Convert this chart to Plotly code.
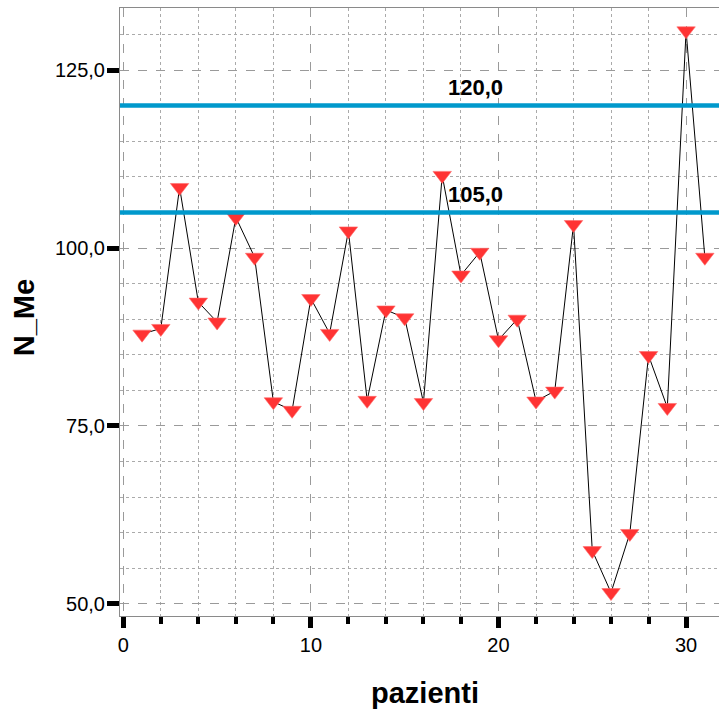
import plotly.graph_objects as go

# Patient index and measured N_Me values
pazienti = list(range(1, 32))
n_me = [87.9, 88.7, 108.5, 92.4, 89.6, 104.3, 98.7, 78.4, 77.2, 92.9,
        88.0, 102.4, 78.6, 91.3, 90.2, 78.3, 110.2, 96.2, 99.4, 87.1,
        90.0, 78.5, 79.9, 103.3, 57.5, 51.6, 59.9, 84.9, 77.6, 130.5, 98.7]

# Reference levels drawn as horizontal lines
ref_levels = [120.0, 105.0]
ref_label_x = 18.8

FONT = "Liberation Sans, Arial, sans-serif"

fig = go.Figure()

fig.add_trace(go.Scatter(
    x=pazienti, y=n_me,
    mode="lines+markers",
    line=dict(color="black", width=1),
    marker=dict(symbol="triangle-down", size=16, color="#ff3333",
                line=dict(color="#ff6a6a", width=0.6)),
    showlegend=False, hoverinfo="x+y",
))

shapes = []
annotations = []
for lvl in ref_levels:
    shapes.append(dict(type="line", xref="paper", x0=0, x1=1,
                       yref="y", y0=lvl, y1=lvl,
                       line=dict(color="#0099cc", width=4.5), layer="above"))
    annotations.append(dict(x=ref_label_x, y=lvl, xref="x", yref="y",
                            text="<b>" + f"{lvl:.1f}".replace(".", ",") + "</b>",
                            showarrow=False, xanchor="center", yanchor="middle",
                            yshift=18, font=dict(family=FONT, size=22, color="black")))

annotations.append(dict(x=-0.16, y=0.49, xref="paper", yref="paper",
                        text="<b>N_Me</b>", textangle=-90, showarrow=False,
                        xanchor="center", yanchor="middle",
                        font=dict(family=FONT, size=29, color="black")))
annotations.append(dict(x=0.509, y=-0.127, xref="paper", yref="paper",
                        text="<b>pazienti</b>", showarrow=False,
                        xanchor="center", yanchor="middle",
                        font=dict(family=FONT, size=29, color="black")))

fig.update_layout(
    width=719, height=715,
    margin=dict(l=120, r=0, t=8, b=99),
    paper_bgcolor="white", plot_bgcolor="white",
    separators=",.",
    font=dict(family=FONT, size=20, color="black"),
    shapes=shapes, annotations=annotations,
    xaxis=dict(
        range=[-0.176, 31.755], tick0=0, dtick=10,
        showgrid=True, gridcolor="#9a9a9a", griddash="dash", gridwidth=1,
        ticks="outside", ticklen=11, tickwidth=4.5, tickcolor="black",
        showline=True, linecolor="#8a8a8a", linewidth=1, mirror=True,
        zeroline=False,
        tickfont=dict(family=FONT, size=20, color="black"),
        minor=dict(tick0=0, dtick=2, showgrid=True, gridcolor="#aaaaaa",
                   griddash="dot", gridwidth=1, ticks="outside", ticklen=7,
                   tickwidth=4, tickcolor="black"),
    ),
    yaxis=dict(
        range=[48.31, 133.71], tick0=50, dtick=25, tickformat=".1f",
        showgrid=True, gridcolor="#9a9a9a", griddash="dash", gridwidth=1,
        ticks="outside", ticklen=12, tickwidth=4.5, tickcolor="black",
        showline=True, linecolor="#8a8a8a", linewidth=1,
        zeroline=False, ticklabelstandoff=-2,
        tickfont=dict(family=FONT, size=20, color="black"),
        minor=dict(tick0=0, dtick=5, showgrid=True, gridcolor="#aaaaaa",
                   griddash="dot", gridwidth=1, ticks=""),
    ),
)

fig.write_html("out.html")
